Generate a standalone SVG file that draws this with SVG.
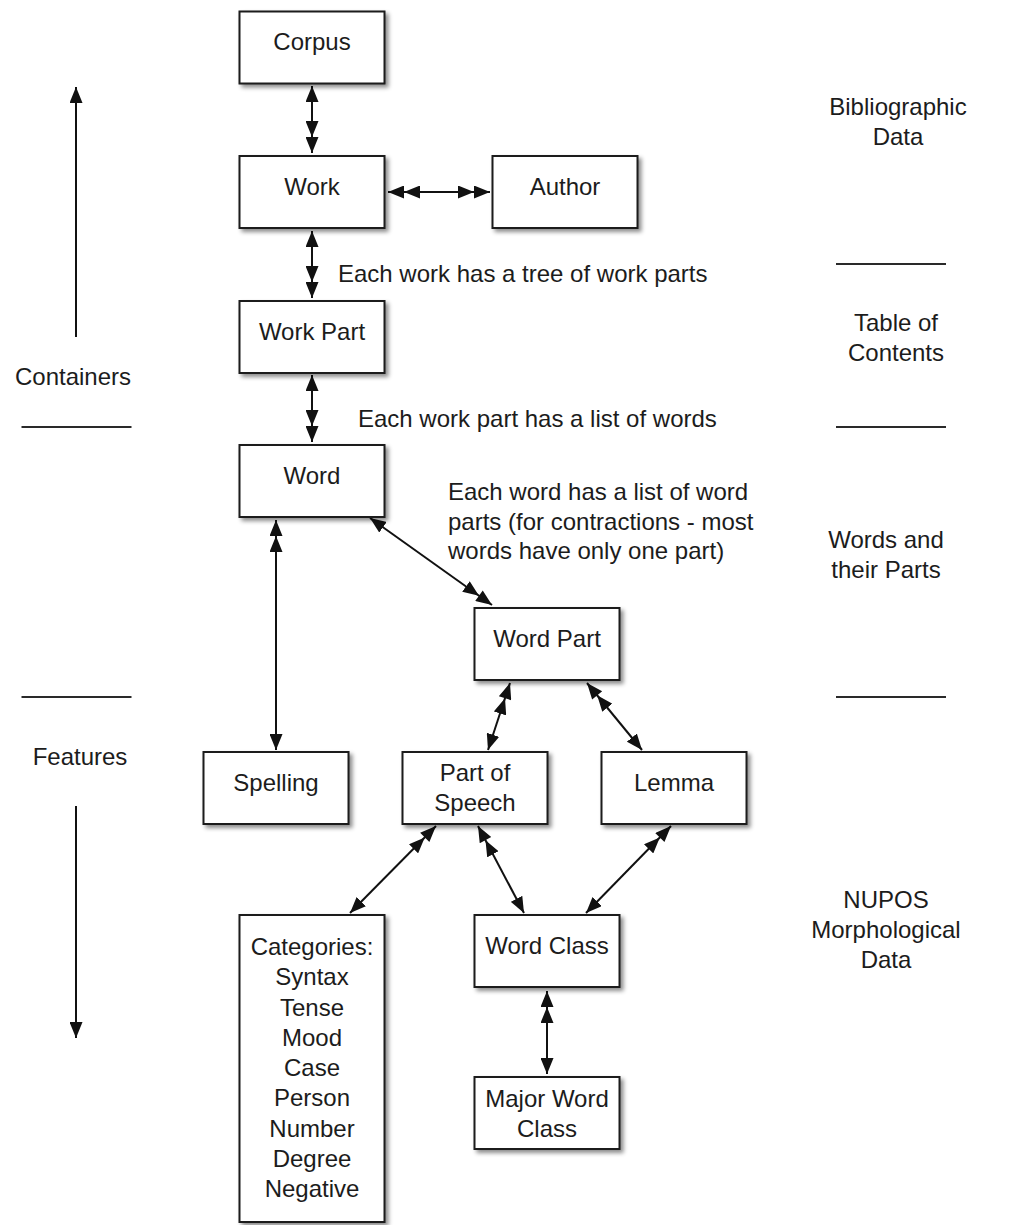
<svg xmlns="http://www.w3.org/2000/svg" width="1034" height="1225" viewBox="0 0 1034 1225">
<style>
text{font-family:"Liberation Sans",Arial,Helvetica,sans-serif;font-size:24px;fill:#1c1c1c}
.c{text-anchor:middle}
.box{fill:#fff;stroke:#1a1a1a;stroke-width:2;filter:url(#sh)}
.con{fill:none;stroke:#111;stroke-width:2}
.sep{stroke:#2a2a2a;stroke-width:2}
</style>
<defs>
<filter id="sh" x="-10%" y="-10%" width="130%" height="130%">
<feDropShadow dx="3" dy="3" stdDeviation="2" flood-color="#000" flood-opacity="0.45"/>
</filter>
<marker id="a1" markerUnits="userSpaceOnUse" markerWidth="16" markerHeight="13" viewBox="0 0 16 13" refX="16" refY="6.5" orient="auto-start-reverse"><path d="M0,0 L16,6.5 L0,13 z" fill="#111"/></marker>
<marker id="a2" markerUnits="userSpaceOnUse" markerWidth="32" markerHeight="13" viewBox="0 0 32 13" refX="32" refY="6.5" orient="auto-start-reverse"><path d="M0,0 L16,6.5 L0,13 z M16,0 L32,6.5 L16,13 z" fill="#111"/></marker>
</defs>
<rect width="1034" height="1225" fill="#fff"/>

<g id="connectors">
<path class="con" d="M312,86 L312,153" marker-start="url(#a1)" marker-end="url(#a2)"/>
<path class="con" d="M388,192 L490,192" marker-start="url(#a2)" marker-end="url(#a2)"/>
<path class="con" d="M312,231 L312,298" marker-start="url(#a1)" marker-end="url(#a2)"/>
<path class="con" d="M312,375 L312,442" marker-start="url(#a1)" marker-end="url(#a2)"/>
<path class="con" d="M370,518 L492,605" marker-start="url(#a1)" marker-end="url(#a2)"/>
<path class="con" d="M276,520 L276,750" marker-start="url(#a2)" marker-end="url(#a1)"/>
<path class="con" d="M510,683 L488,750" marker-start="url(#a2)" marker-end="url(#a1)"/>
<path class="con" d="M587,683 L642,750" marker-start="url(#a2)" marker-end="url(#a1)"/>
<path class="con" d="M436,826 L350,913" marker-start="url(#a2)" marker-end="url(#a1)"/>
<path class="con" d="M478,826 L524,913" marker-start="url(#a2)" marker-end="url(#a1)"/>
<path class="con" d="M671,826 L586,913" marker-start="url(#a2)" marker-end="url(#a1)"/>
<path class="con" d="M547,991 L547,1074" marker-start="url(#a2)" marker-end="url(#a1)"/>
<path class="con" d="M76,337 L76,87" marker-end="url(#a1)"/>
<path class="con" d="M76,806 L76,1038" marker-end="url(#a1)"/>
</g>

<g id="separators">
<line class="sep" x1="21.5" y1="427" x2="131.5" y2="427"/>
<line class="sep" x1="21.5" y1="697" x2="131.5" y2="697"/>
<line class="sep" x1="836" y1="264" x2="946" y2="264"/>
<line class="sep" x1="836" y1="427" x2="946" y2="427"/>
<line class="sep" x1="836" y1="697" x2="946" y2="697"/>
</g>

<g id="corpus"><rect class="box" x="239.5" y="11.5" width="145" height="72"/><text class="c" x="312" y="50">Corpus</text></g>
<g id="work"><rect class="box" x="239.5" y="156" width="145" height="72"/><text class="c" x="312" y="195">Work</text></g>
<g id="author"><rect class="box" x="492.5" y="156" width="145" height="72"/><text class="c" x="565" y="195">Author</text></g>
<g id="workpart"><rect class="box" x="239.5" y="301" width="145" height="72"/><text class="c" x="312" y="340">Work Part</text></g>
<g id="word"><rect class="box" x="239.5" y="445" width="145" height="72"/><text class="c" x="312" y="484">Word</text></g>
<g id="wordpart"><rect class="box" x="474.5" y="608" width="145" height="72"/><text class="c" x="547" y="647">Word Part</text></g>
<g id="spelling"><rect class="box" x="203.5" y="752" width="145" height="72"/><text class="c" x="276" y="791">Spelling</text></g>
<g id="partofspeech"><rect class="box" x="402.5" y="752" width="145" height="72"/><text class="c" x="475" y="781">Part of</text><text class="c" x="475" y="811">Speech</text></g>
<g id="lemma"><rect class="box" x="601.5" y="752" width="145" height="72"/><text class="c" x="674" y="791">Lemma</text></g>
<g id="categories"><rect class="box" x="239.5" y="915" width="145" height="307"/>
<text class="c" x="312" y="955">Categories:</text>
<text class="c" x="312" y="985.25">Syntax</text>
<text class="c" x="312" y="1015.5">Tense</text>
<text class="c" x="312" y="1045.75">Mood</text>
<text class="c" x="312" y="1076">Case</text>
<text class="c" x="312" y="1106.25">Person</text>
<text class="c" x="312" y="1136.5">Number</text>
<text class="c" x="312" y="1166.75">Degree</text>
<text class="c" x="312" y="1197">Negative</text></g>
<g id="wordclass"><rect class="box" x="474.5" y="915" width="145" height="72"/><text class="c" x="547" y="954">Word Class</text></g>
<g id="majorwordclass"><rect class="box" x="474.5" y="1077" width="145" height="72"/><text class="c" x="547" y="1107">Major Word</text><text class="c" x="547" y="1137">Class</text></g>

<g id="annotations">
<text x="338" y="282">Each work has a tree of work parts</text>
<text x="358" y="427">Each work part has a list of words</text>
<text x="448" y="500">Each word has a list of word</text>
<text x="448" y="529.5">parts (for contractions - most</text>
<text x="448" y="559">words have only one part)</text>
</g>

<g id="side-labels">
<text class="c" x="73" y="385">Containers</text>
<text class="c" x="80" y="765">Features</text>
<text class="c" x="898" y="115">Bibliographic</text>
<text class="c" x="898" y="145">Data</text>
<text class="c" x="896" y="331">Table of</text>
<text class="c" x="896" y="361">Contents</text>
<text class="c" x="886" y="548">Words and</text>
<text class="c" x="886" y="578">their Parts</text>
<text class="c" x="886" y="908">NUPOS</text>
<text class="c" x="886" y="938">Morphological</text>
<text class="c" x="886" y="968">Data</text>
</g>
</svg>
